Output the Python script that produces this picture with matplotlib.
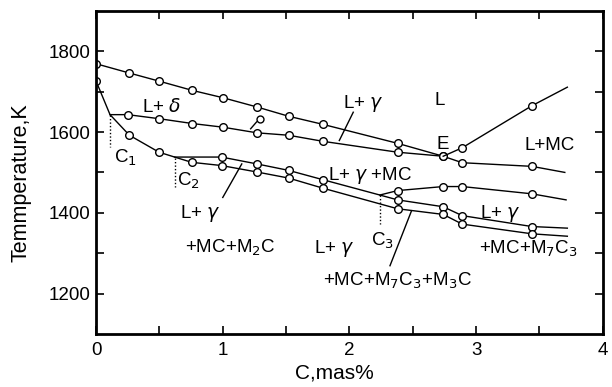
import numpy as np
import matplotlib
matplotlib.use('Agg')
import matplotlib.pyplot as plt

plt.rcParams['font.family'] = ['Liberation Sans', 'DejaVu Sans']
plt.rcParams['mathtext.fontset'] = 'dejavusans'

# ---- data (C in mas%, T in K) ----
# liquidus L / L+gamma, running through E and on as the L+MC lower boundary
liq_c = [0, 0.263, 0.497, 0.76, 1.0, 1.27, 1.52, 1.79, 2.38, 2.74, 2.89, 3.44, 3.70]
liq_t = [1769, 1746, 1726, 1703, 1685, 1662, 1639, 1619, 1572, 1540, 1524, 1515, 1500]

# L+delta / L+gamma boundary from C1 to E
ld_c = [0.11, 0.25, 0.497, 0.76, 1.0, 1.27, 1.52, 1.79, 2.38, 2.74]
ld_t = [1643, 1643, 1633, 1621, 1612, 1598, 1592, 1577, 1550, 1540]

# L / L+MC liquidus beyond E
mc_c = [2.74, 2.89, 3.44, 3.72]
mc_t = [1540, 1561, 1665, 1711]

# solidus through C1, C2, C3
sol_c = [0, 0.11, 0.263, 0.497, 0.62, 0.99, 1.27, 1.52, 1.79, 2.24, 2.38, 2.74, 2.89, 3.44, 3.72]
sol_t = [1726, 1643, 1592, 1550, 1538, 1538, 1521, 1505, 1482, 1444, 1432, 1415, 1393, 1366, 1362]

# lower solidus branch from C2
low_c = [0.62, 0.754, 0.99, 1.27, 1.52, 1.79, 2.38, 2.74, 2.89, 3.44, 3.72]
low_t = [1538, 1525, 1517, 1501, 1486, 1461, 1410, 1396, 1372, 1348, 1342]

# upper branch from C3 (L+gamma+MC)
up_c = [2.24, 2.38, 2.74, 2.89, 3.44, 3.71]
up_t = [1444, 1455, 1465, 1465, 1447, 1432]

# single extra point near 1.3 mas%
odd_c = [1.29]
odd_t = [1631]

# dotted markers for C1, C2, C3
cpt_name = ['C$_1$', 'C$_2$', 'C$_3$']
cpt_c = [0.11, 0.62, 2.24]
cpt_t_top = [1641, 1535, 1444]
cpt_t_bot = [1562, 1463, 1373]

fig = plt.figure(figsize=(6.12, 3.87), dpi=100)
ax = fig.add_axes([0.157, 0.137, 0.828, 0.835])

line_kw = dict(color='black', linewidth=1.0, marker='o', markersize=5.5,
               markerfacecolor='white', markeredgecolor='black', markeredgewidth=1.0)

ax.plot(liq_c, liq_t, markevery=list(range(0, 12)), **line_kw)
ax.plot(ld_c, ld_t, markevery=list(range(1, 10)), **line_kw)
ax.plot(mc_c, mc_t, markevery=[1, 2], **line_kw)
ax.plot(sol_c, sol_t, markevery=[0, 2, 3, 5, 6, 7, 8, 10, 11, 12, 13], **line_kw)
ax.plot(low_c, low_t, markevery=list(range(1, 10)), **line_kw)
ax.plot(up_c, up_t, markevery=[1, 2, 3, 4], **line_kw)
ax.plot(odd_c, odd_t, linestyle='none', marker='o', markersize=5, markerfacecolor='white',
        markeredgecolor='black', markeredgewidth=1.0)
ax.plot([1.22, 1.267], [1608, 1625], color='black', linewidth=1.0)

for name, c, t0, t1 in zip(cpt_name, cpt_c, cpt_t_top, cpt_t_bot):
    ax.plot([c, c], [t0, t1], color='black', linewidth=1.0, linestyle=(0, (1, 1.5)))

# leader lines
ax.plot([2.03, 1.92], [1649, 1579], color='black', linewidth=1.0)
ax.plot([1.15, 1.0], [1521, 1438], color='black', linewidth=1.0)
ax.plot([2.49, 2.32], [1405, 1269], color='black', linewidth=1.0)

fs = 13.5
ax.text(0.52, 1661, 'L+ $\\delta$', fontsize=fs, ha='center', va='center')
ax.text(2.11, 1671, 'L+ $\\gamma$', fontsize=fs, ha='center', va='center')
ax.text(2.71, 1678, 'L', fontsize=fs, ha='center', va='center')
ax.text(2.74, 1569, 'E', fontsize=fs, ha='center', va='center')
ax.text(3.58, 1567, 'L+MC', fontsize=fs, ha='center', va='center')
ax.text(2.16, 1492, 'L+ $\\gamma$ +MC', fontsize=fs, ha='center', va='center')
ax.text(0.23, 1537, cpt_name[0], fontsize=fs, ha='center', va='center')
ax.text(0.73, 1480, cpt_name[1], fontsize=fs, ha='center', va='center')
ax.text(2.26, 1331, cpt_name[2], fontsize=fs, ha='center', va='center')
ax.text(0.82, 1398, 'L+ $\\gamma$', fontsize=fs, ha='center', va='center')
ax.text(1.06, 1314, '+MC+M$_2$C', fontsize=fs, ha='center', va='center')
ax.text(1.88, 1311, 'L+ $\\gamma$', fontsize=fs, ha='center', va='center')
ax.text(2.38, 1232, '+MC+M$_7$C$_3$+M$_3$C', fontsize=fs, ha='center', va='center')
ax.text(3.19, 1398, 'L+ $\\gamma$', fontsize=fs, ha='center', va='center')
ax.text(3.41, 1311, '+MC+M$_7$C$_3$', fontsize=fs, ha='center', va='center')

ax.set_xlim(0, 4)
ax.set_ylim(1100, 1900)
ax.set_xticks([0, 1, 2, 3, 4])
ax.set_xticks([0.5, 1.5, 2.5, 3.5], minor=True)
ax.set_yticks([1200, 1400, 1600, 1800])
ax.set_yticks([1300, 1500, 1700], minor=True)
ax.tick_params(which='both', direction='in', top=True, right=True, length=6, width=1.2,
               labelsize=13.5)
ax.tick_params(axis='y', pad=4)
ax.tick_params(axis='x', pad=6)
for sp in ax.spines.values():
    sp.set_linewidth(2)

ax.set_xlabel('C,mas%', fontsize=15)
ax.set_ylabel('Temmperature,K', fontsize=15.5)
ax.xaxis.set_label_coords(0.47, -0.09)
ax.yaxis.set_label_coords(-0.128, 0.467)

plt.savefig('out.png', dpi=100)
